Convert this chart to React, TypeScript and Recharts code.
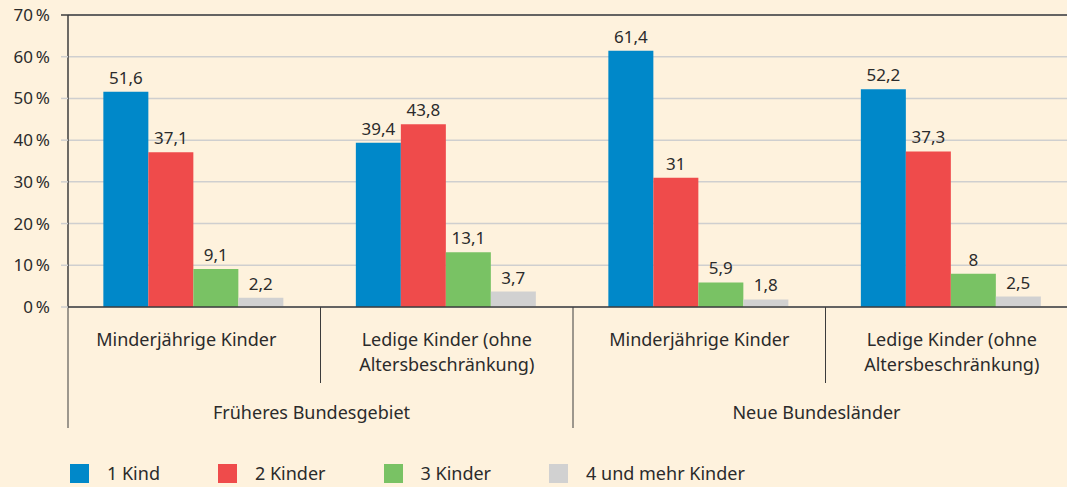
import React from 'react';
import {
  BarChart,
  Bar,
  XAxis,
  YAxis,
  CartesianGrid,
  LabelList,
  Legend,
  ReferenceLine,
} from 'recharts';

const categories = [
  'Minderjährige Kinder',
  'Ledige Kinder (ohne\nAltersbeschränkung)',
  'Minderjährige Kinder',
  'Ledige Kinder (ohne\nAltersbeschränkung)',
];
const regions = ['Früheres Bundesgebiet', 'Früheres Bundesgebiet', 'Neue Bundesländer', 'Neue Bundesländer'];

const kind1 = [51.6, 39.4, 61.4, 52.2];
const kinder2 = [37.1, 43.8, 31, 37.3];
const kinder3 = [9.1, 13.1, 5.9, 8];
const kinder4 = [2.2, 3.7, 1.8, 2.5];

const yTicks = [0, 10, 20, 30, 40, 50, 60, 70];

const series = [
  { key: 'k1', name: '1 Kind', color: '#0088c9' },
  { key: 'k2', name: '2 Kinder', color: '#ef4b4b' },
  { key: 'k3', name: '3 Kinder', color: '#79c264' },
  { key: 'k4', name: '4 und mehr Kinder', color: '#d1d1d1' },
];

const data = categories.map((c, i) => ({
  category: c,
  region: regions[i],
  k1: kind1[i],
  k2: kinder2[i],
  k3: kinder3[i],
  k4: kinder4[i],
}));

const FONT = '"Noto Sans", sans-serif';
const FS = 18;
const TEXT = '#2b2b2b';
const AXIS = '#3c3c3c';
const GRID = '#cfcfcf';

const fmt = (v: any) => String(v).replace('.', ',');

const CategoryTick = (props: any) => {
  const { x, y, payload } = props;
  const i = props.index ?? payload.index ?? 0;
  const half = payload.offset ?? 126;
  const lines = String(payload.value).split('\n');
  const left = x - half;
  const sepEnd = i === 1 || i === 3 ? y + 76 : y + 121;
  // the first label sits a little left of its group in the original
  const dx = i === 0 ? -8 : 0;
  return (
    <g>
      <line x1={left} x2={left} y1={y} y2={sepEnd} stroke={AXIS} strokeWidth={1} />
      {lines.map((l, k) => (
        <text
          key={k}
          x={x + dx}
          y={y + 39 + k * 25}
          textAnchor="middle"
          fill={TEXT}
          fontSize={FS}
          fontFamily={FONT}
        >
          {l}
        </text>
      ))}
      {i % 2 === 0 && (
        <text
          x={x + half - 9}
          y={y + 112}
          textAnchor="middle"
          fill={TEXT}
          fontSize={FS}
          fontFamily={FONT}
        >
          {data[i].region}
        </text>
      )}
    </g>
  );
};

const PercentTick = (props: any) => {
  const { x, y, payload } = props;
  return (
    <g>
      <line x1={x + 11} x2={x + 18} y1={y} y2={y} stroke={payload.value === 70 ? AXIS : GRID} strokeWidth={1.5} />
      <text x={x} y={y} dy={6} textAnchor="end" fill={TEXT} fontSize={17} fontFamily={FONT}>
        {`${payload.value}\u2009%`}
      </text>
    </g>
  );
};

const LegendContent = () => (
  <div
    style={{
      height: 50,
      display: 'flex',
      alignItems: 'flex-start',
      paddingLeft: 70,
      paddingTop: 27,
      boxSizing: 'border-box',
      fontFamily: FONT,
      fontSize: FS,
      color: TEXT,
    }}
  >
    {series.map((s) => (
      <div key={s.key} style={{ display: 'flex', alignItems: 'center', marginRight: 58 }}>
        <span style={{ width: 19, height: 19, background: s.color, display: 'inline-block', marginRight: 18 }} />
        <span style={{ lineHeight: '19px' }}>{s.name}</span>
      </div>
    ))}
  </div>
);

export default function App() {
  return (
    <div style={{ position: 'absolute', left: 0, top: 0, width: 1067, height: 487, background: '#fef2dd', overflow: 'hidden' }}>
      <BarChart
        width={1067}
        height={487}
        data={data}
        margin={{ top: 15, right: -11, bottom: 0, left: 0 }}
        barCategoryGap="14%"
        barGap={0}
      >
        <CartesianGrid vertical={false} stroke={GRID} strokeWidth={1.5} />
        <ReferenceLine y={70} stroke={AXIS} strokeWidth={1.5} />
        <XAxis
          dataKey="category"
          height={130}
          axisLine={{ stroke: AXIS, strokeWidth: 1.5 }}
          tickLine={false}
          tickSize={0}
          tickMargin={0}
          interval={0}
          tick={<CategoryTick />}
        />
        <YAxis
          width={68}
          domain={[0, 70]}
          ticks={yTicks}
          interval={0}
          axisLine={{ stroke: AXIS, strokeWidth: 1.5 }}
          tickLine={false}
          tickSize={7}
          tickMargin={11}
          tick={<PercentTick />}
        />
        <Legend
          verticalAlign="bottom"
          wrapperStyle={{ left: 0, bottom: 0, width: 1067 }}
          content={<LegendContent />}
        />
        {series.map((s) => (
          <Bar key={s.key} dataKey={s.key} name={s.name} fill={s.color} isAnimationActive={false}>
            <LabelList
              dataKey={s.key}
              position="top"
              offset={8}
              formatter={fmt}
              fill={TEXT}
              fontSize={17}
              fontFamily={FONT}
            />
          </Bar>
        ))}
      </BarChart>
    </div>
  );
}
